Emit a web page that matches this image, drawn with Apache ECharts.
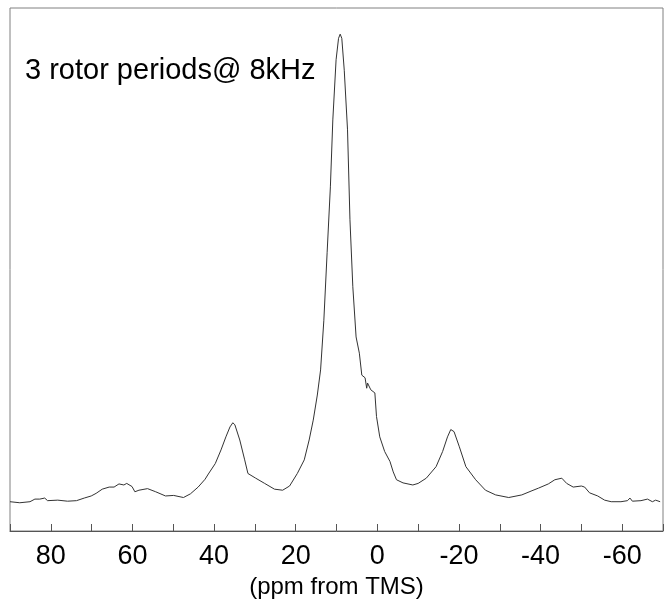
<!DOCTYPE html>
<html>
<head>
<meta charset="utf-8">
<script src="https://cdn.jsdelivr.net/npm/echarts@6/dist/echarts.min.js"></script>
<style>html,body{margin:0;padding:0;background:#fff;}#c{width:666px;height:608px;}</style>
</head>
<body>
<div id="c"></div>
<script>
// Chemical shift (ppm from TMS)
var ppm = [90.0,87.6,85.1,83.9,82.7,81.5,80.8,78.3,75.9,73.7,71.8,70.1,68.9,67.4,65.7,64.5,63.3,62.1,61.4,60.1,59.4,58.4,56.3,54.3,51.9,49.9,47.5,45.8,43.9,42.2,41.4,39.7,38.3,37.1,36.1,35.4,34.9,33.7,32.5,31.7,29.8,27.6,25.2,23.2,21.5,19.6,17.9,16.7,15.7,14.7,13.9,13.1,12.3,11.5,10.9,10.1,9.5,9.1,8.7,8.1,7.3,6.7,6.0,5.2,4.4,3.8,3.0,2.6,2.4,1.6,0.6,0.2,-0.6,-1.8,-3.1,-3.9,-4.7,-6.3,-8.7,-10.0,-12.0,-14.4,-16.0,-17.2,-18.0,-18.8,-20.1,-21.7,-24.1,-26.5,-29.0,-32.2,-35.4,-37.9,-39.5,-41.9,-43.5,-45.2,-46.4,-48.0,-50.0,-50.8,-52.0,-54.0,-55.7,-57.3,-59.7,-61.3,-61.9,-62.5,-64.6,-66.2,-67.4,-68.2,-69.3];
// Signal intensity (arbitrary units)
var intensity = [5.6,5.4,5.6,6.1,6.1,6.3,5.8,5.9,5.7,5.8,6.3,6.7,7.2,8.0,8.4,8.4,9.0,8.8,9.1,8.5,7.5,7.8,8.1,7.5,6.7,6.8,6.4,7.1,8.4,9.9,10.9,12.9,15.5,18.0,19.9,20.7,20.3,17.4,13.6,11.0,10.1,9.1,8.0,7.8,8.6,11.0,13.6,17.4,21.2,26.0,30.8,40.3,53.2,65.8,78.6,90.1,94.2,95.0,94.2,88.1,76.7,59.5,46.7,37.1,34.0,29.8,29.3,27.3,28.3,27.0,26.4,21.9,18.0,15.2,13.3,11.3,9.8,9.2,8.8,9.1,10.1,12.3,15.2,18.0,19.4,19.0,16.1,12.3,9.8,7.8,6.9,6.4,6.9,7.7,8.2,9.0,9.8,10.1,9.1,8.4,8.6,8.4,7.3,6.7,5.9,5.6,5.6,5.8,6.3,5.7,5.8,6.1,5.6,5.9,5.6];
var tickLabels = [80,60,40,20,0,-20,-40,-60];
var xTitle = '(ppm from TMS)';
var note = '3 rotor periods@ 8kHz';

var data = ppm.map(function(p,i){return [p, intensity[i]];});
var chart = echarts.init(document.getElementById('c'), null, {renderer:'canvas'});
chart.setOption({
  animation:false,
  backgroundColor:'#fff',
  grid:{left:10,right:-3,top:8,bottom:77,show:true,borderColor:'#808080',borderWidth:1},
  xAxis:{
    type:'value',min:-70,max:90,interval:10,inverse:true,
    axisLine:{lineStyle:{color:'#555',width:1}},
    axisTick:{inside:true,length:7,lineStyle:{color:'#555'}},
    splitLine:{show:false},
    axisLabel:{
      margin:12,fontSize:27,color:'#000',fontFamily:'Liberation Sans, Arial, sans-serif',
      formatter:function(v){return tickLabels.indexOf(v)>=0?String(v):'';}
    },
    name:xTitle,nameLocation:'middle',nameGap:36,
    nameTextStyle:{fontSize:24,color:'#000',fontFamily:'Liberation Sans, Arial, sans-serif'}
  },
  yAxis:{type:'value',min:0,max:100,show:false},
  graphic:[{type:'text',left:25,top:56,style:{text:note,fontSize:29,fill:'#000',fontFamily:'Liberation Sans, Arial, sans-serif'}}],
  series:[{type:'line',data:data,showSymbol:false,symbol:'none',lineStyle:{color:'#333',width:1}}]
});
</script>
</body>
</html>
